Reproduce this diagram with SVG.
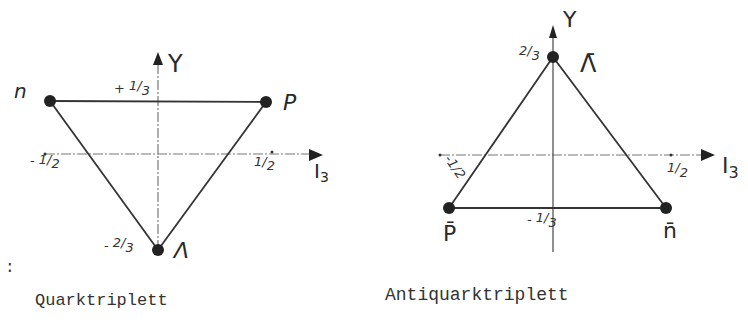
<svg xmlns="http://www.w3.org/2000/svg" width="748" height="322" viewBox="0 0 748 322">
<style>
.axis{stroke:#777;stroke-width:1.2;fill:none;stroke-dasharray:10 2 2 2}
.axis2{stroke:#555;stroke-width:1.3;fill:none}
.edge{stroke:#333;stroke-width:1.8;fill:none}
.head{fill:#222}
.dot{fill:#222}
.lbl{font-family:"DejaVu Sans",sans-serif;fill:#2a2a2a;font-style:italic}
.up{font-family:"DejaVu Sans",sans-serif;fill:#2a2a2a}
.frac{font-family:"DejaVu Sans",sans-serif;fill:#333;font-size:13px;font-style:italic}
.cap{font-family:"Liberation Mono",monospace;fill:#333}
</style>
<rect width="748" height="322" fill="#ffffff"/>
<g id="connectors">
  <line class="axis" x1="45" y1="154" x2="311" y2="154"/>
  <polygon class="head" points="323,155 309,149 309,161"/>
  <line class="axis" x1="158" y1="250" x2="158" y2="64"/>
  <polygon class="head" points="158,52 153,65 163,65"/>
  <circle cx="45" cy="154" r="1.5" fill="#333"/>
  <circle cx="272" cy="152" r="1.5" fill="#333"/>
  <line class="edge" x1="50" y1="101" x2="266" y2="102"/>
  <line class="edge" x1="50" y1="101" x2="158" y2="250"/>
  <line class="edge" x1="266" y1="102" x2="158" y2="250"/>
  <line class="axis" x1="440" y1="155" x2="703" y2="155"/>
  <polygon class="head" points="715,155 701,149 701,161"/>
  <line class="axis2" x1="553" y1="252" x2="553" y2="37"/>
  <polygon class="head" points="553,25 549,38 557,38"/>
  <circle cx="440" cy="155" r="1.5" fill="#333"/>
  <circle cx="671" cy="155" r="1.5" fill="#333"/>
  <line class="edge" x1="449" y1="208" x2="666" y2="208"/>
  <line class="edge" x1="553" y1="57" x2="449" y2="208"/>
  <line class="edge" x1="553" y1="57" x2="666" y2="208"/>
</g>
<g id="node-n">
  <circle class="dot" cx="50" cy="101" r="6"/>
  <text class="lbl" x="14" y="98" font-size="20">n</text>
</g>
<g id="node-p">
  <circle class="dot" cx="266" cy="102" r="6"/>
  <text class="lbl" x="283" y="110" font-size="22">P</text>
</g>
<g id="node-lambda">
  <circle class="dot" cx="158" cy="250" r="6"/>
  <text class="lbl" x="174" y="258" font-size="22">Λ</text>
</g>
<g id="left-labels">
  <text class="up" x="168" y="72" font-size="24">Y</text>
  <text class="up" x="314" y="178" font-size="20">I<tspan font-size="14" dy="4">3</tspan></text>
  <text class="frac" x="114" y="93">+ <tspan dy="-3">1</tspan>/<tspan dy="5">3</tspan></text>
  <text class="frac" x="30" y="165">- <tspan dy="-1">1</tspan>/<tspan dy="4">2</tspan></text>
  <text class="frac" x="254" y="166"><tspan>1</tspan>/<tspan dy="4">2</tspan></text>
  <text class="frac" x="104" y="250">- <tspan dy="-3">2</tspan>/<tspan dy="5">3</tspan></text>
</g>
<g id="node-lambdabar">
  <circle class="dot" cx="553" cy="57" r="6"/>
  <text class="up" x="580" y="72" font-size="24">Λ̄</text>
</g>
<g id="node-pbar">
  <circle class="dot" cx="449" cy="208" r="6"/>
  <text class="up" x="443" y="241" font-size="22">P̄</text>
</g>
<g id="node-nbar">
  <circle class="dot" cx="666" cy="208" r="6"/>
  <text class="up" x="663" y="238" font-size="22">n̄</text>
</g>
<g id="right-labels">
  <text class="up" x="563" y="27" font-size="22">Y</text>
  <text class="up" x="722" y="173" font-size="22">I<tspan font-size="16" dy="5">3</tspan></text>
  <text class="frac" x="519" y="57"><tspan dy="-2">2</tspan>/<tspan dy="5">3</tspan></text>
  <text class="frac" transform="translate(444,159) rotate(55)" x="0" y="0">-1/2</text>
  <text class="frac" x="667" y="174"><tspan dy="-2">1</tspan>/<tspan dy="5">2</tspan></text>
  <text class="frac" x="527" y="224">- <tspan dy="-2">1</tspan>/<tspan dy="5">3</tspan></text>
</g>
<g id="captions">
  <text class="cap" x="5" y="272" font-size="16">:</text>
  <text class="cap" x="35" y="305" font-size="17">Quarktriplett</text>
  <text class="cap" x="385" y="300" font-size="18">Antiquarktriplett</text>
</g>
</svg>
